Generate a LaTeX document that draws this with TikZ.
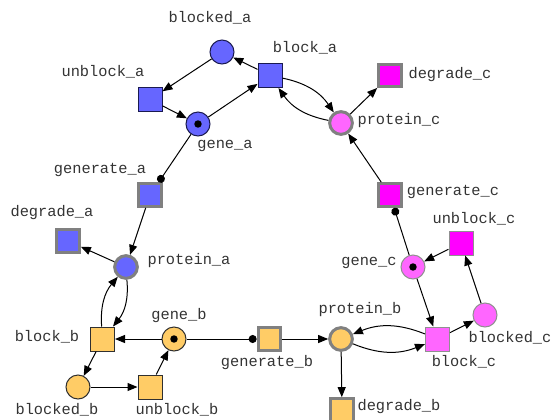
\documentclass[tikz,border=0pt]{standalone}
\usepackage{fontspec}
\setmonofont{Liberation Mono}
\usetikzlibrary{arrows.meta}
\definecolor{cblue}{HTML}{6666FF}
\definecolor{corange}{HTML}{FFCC66}
\definecolor{cpink}{HTML}{FF66FF}
\definecolor{cmag}{HTML}{FF00FF}
\definecolor{cgray}{HTML}{808080}
\definecolor{cnavy}{HTML}{1A1A50}
\definecolor{cdark}{HTML}{303030}
\definecolor{clight}{HTML}{909090}
\tikzset{
  x=0.75pt, y=0.75pt,
  place/.style={circle, minimum size=18pt, inner sep=0pt, line width=0.75pt},
  trans/.style={rectangle, minimum size=18pt, inner sep=0pt, line width=0.75pt},
  heavy/.style={draw=cgray, line width=2.25pt, minimum size=17pt},
  bl/.style={fill=cblue, draw=cnavy},
  or/.style={fill=corange, draw=cdark},
  pk/.style={fill=cpink, draw=clight},
  mg/.style={fill=cmag, draw=clight},
  lbl/.style={font=\ttfamily\fontsize{11.5pt}{13pt}\selectfont, inner sep=0pt, text=black!80},
  arc/.style={line width=0.75pt, -{Triangle[length=7.5pt,width=6pt]}},
  readarc/.style={line width=0.75pt, -{Circle[length=6pt]}},
  token/.style={fill=black}
}
\begin{document}
\begin{tikzpicture}
\useasboundingbox (0,-419) rectangle (551,0);
% module a
\node[place,bl] (blocked_a) at (222,-52) {};
\node[trans,bl] (block_a) at (270,-75.5) {};
\node[trans,bl] (unblock_a) at (150,-99.5) {};
\node[place,bl] (gene_a) at (198,-124) {};
\node[trans,bl,heavy] (generate_a) at (150,-195) {};
\node[trans,bl,heavy] (degrade_a) at (68,-241) {};
\node[place,bl,heavy] (protein_a) at (126,-267) {};
% module b
\node[trans,or] (block_b) at (102.5,-339) {};
\node[place,or] (gene_b) at (174,-339) {};
\node[place,or] (blocked_b) at (78,-387) {};
\node[trans,or] (unblock_b) at (150,-387) {};
\node[trans,or,heavy] (generate_b) at (269.5,-339) {};
\node[place,or,heavy] (protein_b) at (341,-339) {};
\node[trans,or,heavy] (degrade_b) at (342,-410) {};
% module c
\node[trans,pk] (block_c) at (437.5,-339) {};
\node[place,pk] (blocked_c) at (485,-315) {};
\node[place,pk] (gene_c) at (413,-267) {};
\node[trans,mg] (unblock_c) at (461,-243) {};
\node[trans,mg,heavy] (generate_c) at (390,-195) {};
\node[place,pk,heavy] (protein_c) at (341,-123) {};
\node[trans,mg,heavy] (degrade_c) at (390,-75.5) {};
% tokens
\fill[token] (gene_a) circle (2.8pt);
\fill[token] (gene_b) circle (2.8pt);
\fill[token] (gene_c) circle (2.8pt);
% labels
\node[lbl] (l_blocked_a) at (210,-18) {blocked\_a};
\node[lbl] (l_block_a) at (305,-48) {block\_a};
\node[lbl] (l_unblock_a) at (103,-72) {unblock\_a};
\node[lbl] (l_gene_a) at (225,-146) {gene\_a};
\node[lbl] (l_generate_a) at (100,-170) {generate\_a};
\node[lbl] (l_degrade_a) at (52,-213) {degrade\_a};
\node[lbl] (l_protein_a) at (189,-261) {protein\_a};
\node[lbl] (l_block_b) at (47,-337) {block\_b};
\node[lbl] (l_gene_b) at (179,-316) {gene\_b};
\node[lbl] (l_generate_b) at (267,-363) {generate\_b};
\node[lbl] (l_blocked_b) at (57,-410) {blocked\_b};
\node[lbl] (l_unblock_b) at (177,-410) {unblock\_b};
\node[lbl] (l_protein_b) at (360,-310) {protein\_b};
\node[lbl] (l_degrade_b) at (399,-407) {degrade\_b};
\node[lbl] (l_block_c) at (464,-362) {block\_c};
\node[lbl] (l_blocked_c) at (510,-338) {blocked\_c};
\node[lbl] (l_gene_c) at (369,-263) {gene\_c};
\node[lbl] (l_unblock_c) at (474,-219) {unblock\_c};
\node[lbl] (l_generate_c) at (453,-192) {generate\_c};
\node[lbl] (l_protein_c) at (399,-121) {protein\_c};
\node[lbl] (l_degrade_c) at (450,-75) {degrade\_c};
% arcs module a
\draw[arc] (block_a) -- (blocked_a);
\draw[arc] (blocked_a) -- (unblock_a);
\draw[arc] (unblock_a) -- (gene_a);
\draw[arc] (gene_a) -- (block_a);
\draw[readarc] (gene_a) -- (generate_a);
\draw[arc] (generate_a) -- (protein_a);
\draw[arc] (protein_a) -- (degrade_a);
\draw[arc] (protein_a) to[bend left=22] (block_b);
\draw[arc] (block_b) to[bend left=22] (protein_a);
% module b
\draw[arc] (gene_b) -- (block_b);
\draw[arc] (block_b) -- (blocked_b);
\draw[arc] (blocked_b) -- (unblock_b);
\draw[arc] (unblock_b) -- (gene_b);
\draw[readarc] (gene_b) -- (generate_b);
\draw[arc] (generate_b) -- (protein_b);
\draw[arc] (protein_b) -- (degrade_b);
\draw[arc] (protein_b) to[bend right=22] (block_c);
\draw[arc] (block_c) to[bend right=22] (protein_b);
% module c
\draw[arc] (block_c) -- (blocked_c);
\draw[arc] (blocked_c) -- (unblock_c);
\draw[arc] (unblock_c) -- (gene_c);
\draw[arc] (gene_c) -- (block_c);
\draw[readarc] (gene_c) -- (generate_c);
\draw[arc] (generate_c) -- (protein_c);
\draw[arc] (protein_c) -- (degrade_c);
\draw[arc] (block_a) to[bend left=22] (protein_c);
\draw[arc] (protein_c) to[bend left=22] (block_a);
\end{tikzpicture}
\end{document}
